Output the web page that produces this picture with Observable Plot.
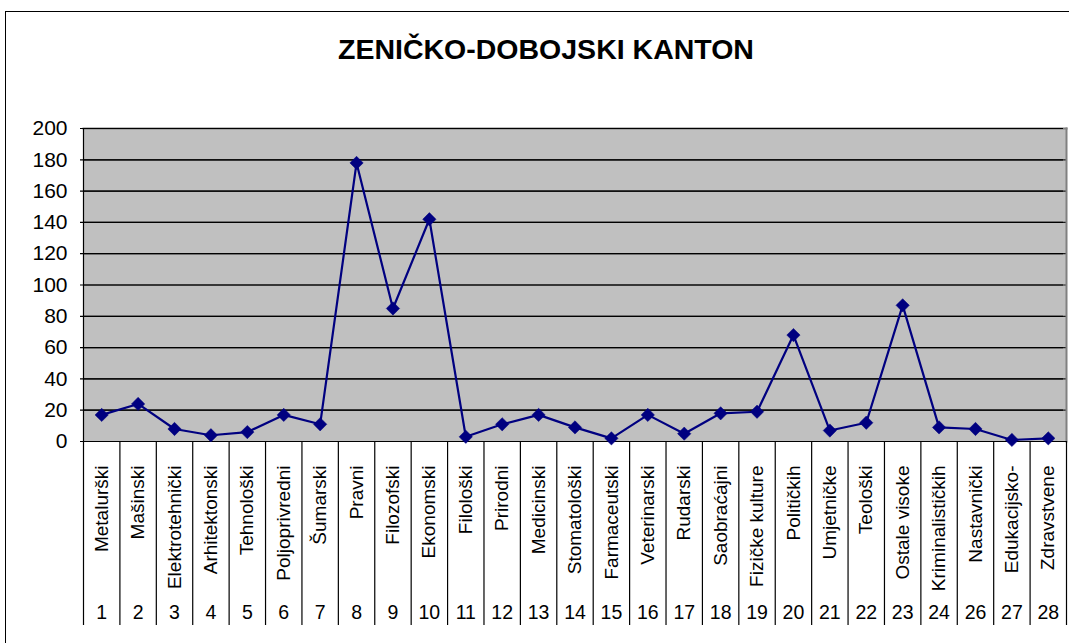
<!DOCTYPE html>
<html>
<head>
<meta charset="utf-8">
<script src="https://cdn.jsdelivr.net/npm/d3@7"></script>
<script src="https://cdn.jsdelivr.net/npm/@observablehq/plot@0.6"></script>
<style>
  html, body { margin: 0; padding: 0; background: #fff; }
  #wrap { position: relative; width: 1069px; height: 643px; overflow: hidden; font-family: "Liberation Sans", Arial, sans-serif; }
  #frame { position: absolute; left: 5px; top: 11px; width: 1200px; height: 800px; border-left: 1.5px solid #000; border-top: 1.5px solid #000; }
  #title { position: absolute; left: 0; width: 1092px; top: 33px; text-align: center; font-weight: bold; font-size: 28.5px; color: #000; line-height: 32px; }
  #chart { position: absolute; left: 0; top: 0; width: 1069px; height: 643px; }
  #chart svg { max-width: none !important; width: 1069px; height: 643px; }
</style>
</head>
<body>
<div id="wrap">
  <div id="frame"></div>
  <div id="title">ZENIČKO-DOBOJSKI KANTON</div>
  <div id="chart"></div>
</div>
<script>
const categories = ["Metalurški","Mašinski","Elektrotehnički","Arhitektonski","Tehnološki","Poljoprivredni","Šumarski","Pravni","Filozofski","Ekonomski","Filološki","Prirodni","Medicinski","Stomatološki","Farmaceutski","Veterinarski","Rudarski","Saobraćajni","Fizičke kulture","Političkih","Umjetničke","Teološki","Ostale visoke","Kriminalističkih","Nastavnički","Edukacijsko-","Zdravstvene"];
const codes = ["1","2","3","4","5","6","7","8","9","10","11","12","13","14","15","16","17","18","19","20","21","22","23","24","26","27","28"];
const values = [17,24,8,4,6,17,11,178,85,142,3,11,17,9,2,17,5,18,19,68,7,12,87,9,8,1,2];
const yTicks = [0,20,40,60,80,100,120,140,160,180,200];

const data = values.map((v, i) => ({pos: i + 1, value: v, name: categories[i], code: codes[i]}));
const boundaries = d3.range(0, categories.length + 1).map(i => i + 0.5);

const chart = Plot.plot({
  width: 1069,
  height: 643,
  marginLeft: 83,
  marginRight: 3,
  marginTop: 128,
  marginBottom: 202,
  style: {fontFamily: "'Liberation Sans', Arial, sans-serif", color: "#000", background: "transparent", overflow: "visible"},
  x: {type: "linear", domain: [0.5, categories.length + 0.5], axis: null},
  y: {domain: [0, 200], axis: null},
  marks: [
    Plot.frame({fill: "#c0c0c0", stroke: null}),
    Plot.ruleY(yTicks, {stroke: "#1a1a1a", strokeWidth: 1.2}),
    Plot.frame({anchor: "top", stroke: "#808080", strokeWidth: 2}),
    Plot.frame({anchor: "right", stroke: "#808080", strokeWidth: 2}),
    Plot.tickY(yTicks, {y: d => d, frameAnchor: "left", dx: -3, stroke: "#000", strokeWidth: 1.2, marker: null}),
    Plot.text(yTicks, {y: d => d, text: d => String(d), frameAnchor: "left", dx: -16, textAnchor: "end", fontSize: 21, fill: "#000"}),
    Plot.ruleX([0.5], {stroke: "#000", strokeWidth: 1.2}),
    Plot.ruleY([0], {stroke: "#000", strokeWidth: 1.2}),
    Plot.axisX({ticks: boundaries, tickSize: 184, tickFormat: () => "", label: null, stroke: "#000", strokeWidth: 1.2}),
    Plot.text(data, {x: "pos", text: "name", frameAnchor: "bottom", dy: 24, rotate: -90, textAnchor: "end", lineAnchor: "middle", fontSize: 19, fill: "#000"}),
    Plot.text(data, {x: "pos", text: "code", frameAnchor: "bottom", dy: 171, lineAnchor: "middle", fontSize: 19.5, fill: "#000"}),
    Plot.line(data, {x: "pos", y: "value", stroke: "#000080", strokeWidth: 2.2}),
    Plot.dot(data, {x: "pos", y: "value", symbol: "diamond2", r: 6, fill: "#000080", stroke: "#000080", strokeWidth: 0.5})
  ]
});
document.getElementById("chart").appendChild(chart);
</script>
</body>
</html>
